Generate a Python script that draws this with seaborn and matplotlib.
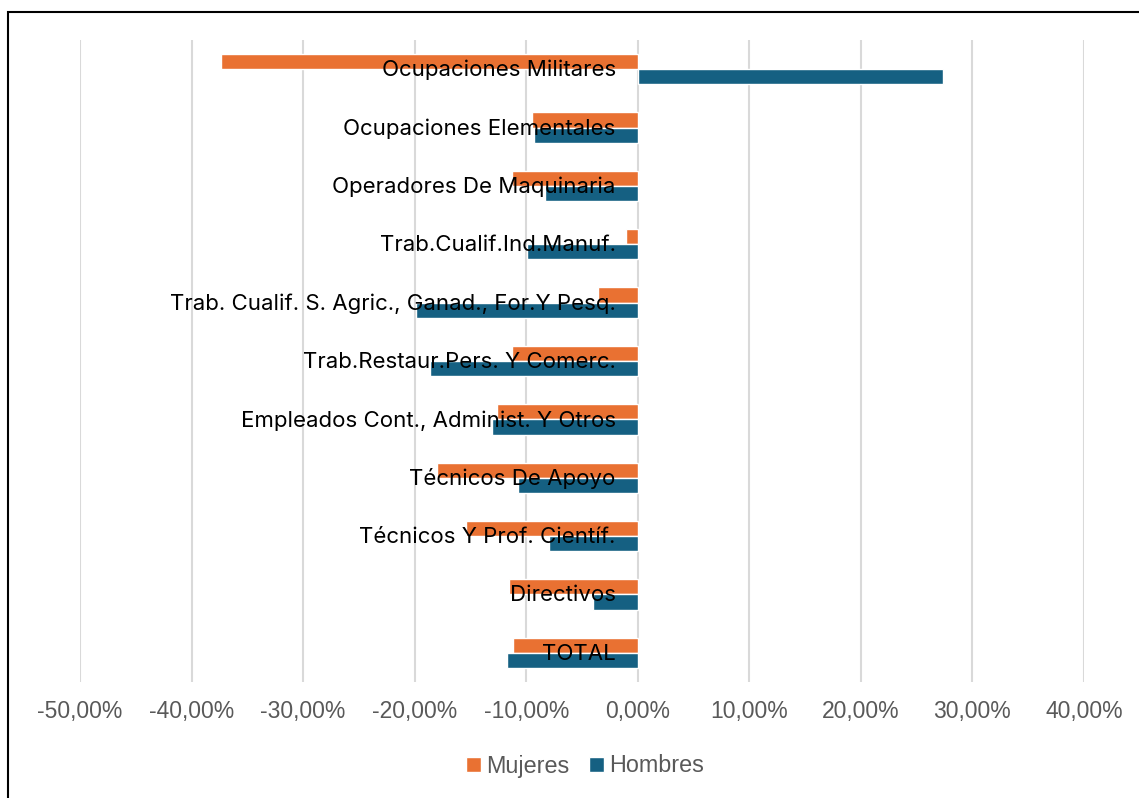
import matplotlib
matplotlib.use("Agg")
import numpy as np
import pandas as pd
import matplotlib.pyplot as plt
import seaborn as sns
from matplotlib.patches import Rectangle

# Data (share, -0.10 = -10%)
categories = [
    "Ocupaciones Militares",
    "Ocupaciones Elementales",
    "Operadores De Maquinaria",
    "Trab.Cualif.Ind.Manuf.",
    "Trab. Cualif. S. Agric., Ganad., For.Y Pesq.",
    "Trab.Restaur.Pers. Y Comerc.",
    "Empleados Cont., Administ. Y Otros",
    "Técnicos De Apoyo",
    "Técnicos Y Prof. Científ.",
    "Directivos",
    "TOTAL",
]
mujeres = [-0.374, -0.095, -0.113, -0.011, -0.036, -0.113, -0.126, -0.180, -0.154, -0.115, -0.112]
hombres = [0.274, -0.093, -0.083, -0.099, -0.199, -0.186, -0.131, -0.107, -0.080, -0.040, -0.117]
series = ["Mujeres", "Hombres"]
ticks = np.arange(-0.5, 0.41, 0.1)
tick_labels = ["-50,00%", "-40,00%", "-30,00%", "-20,00%", "-10,00%",
               "0,00%", "10,00%", "20,00%", "30,00%", "40,00%"]

df = pd.DataFrame({
    "categoria": categories * 2,
    "serie": ["Mujeres"] * len(categories) + ["Hombres"] * len(categories),
    "valor": mujeres + hombres,
})

sns.set_theme(style="white")
plt.rcParams["font.family"] = ["Inter", "DejaVu Sans"]

fig = plt.figure(figsize=(11.39, 7.98), dpi=100)
ax = fig.add_axes([80 / 1139, 1 - 682 / 798, 1004 / 1139, 642 / 798])

sns.barplot(data=df, x="valor", y="categoria", hue="serie", order=categories,
            hue_order=series, palette=["#E97132", "#156082"], orient="h",
            width=0.52, saturation=1, ax=ax, legend=True)

ax.set_xticks(ticks)
ax.set_xticklabels(tick_labels)
ax.tick_params(axis="x", labelsize=16.5, labelcolor="#595959",
               length=3, width=1.5, color="#D9D9D9", pad=10)
for lab in ax.get_xticklabels():
    lab.set_family(["Liberation Sans", "DejaVu Sans"])
ax.set_xlim(-0.5, 0.4)
ax.grid(axis="x", color="#D9D9D9", linewidth=1.5)
ax.set_axisbelow(True)
ax.set_yticks([])
ax.set_xlabel("")
ax.set_ylabel("")
for s in ax.spines.values():
    s.set_visible(False)

# category labels sit right of the zero line, over the bars
for i, name in enumerate(categories):
    ax.annotate(name, xy=(0, i), xytext=(-22, -1), textcoords="offset pixels",
                ha="right", va="center", fontsize=16, color="black")

handles, labels = ax.get_legend_handles_labels()
ax.legend(handles, labels, loc="center", bbox_to_anchor=(585 / 1139, 1 - 766 / 798),
          bbox_transform=fig.transFigure, ncol=2, frameon=False,
          prop={"family": ["Liberation Sans", "DejaVu Sans"], "size": 16.8},
          labelcolor="#595959", handlelength=0.64, handleheight=0.64,
          handletextpad=0.2, columnspacing=0.85)

# outer frame like the exported chart area
fig.patches.append(Rectangle((8 / 1139, -0.1), 1.2, 1.1 - 12 / 798,
                             transform=fig.transFigure, fill=False,
                             edgecolor="black", linewidth=1.5, zorder=10))

fig.savefig("out.png", dpi=100)
